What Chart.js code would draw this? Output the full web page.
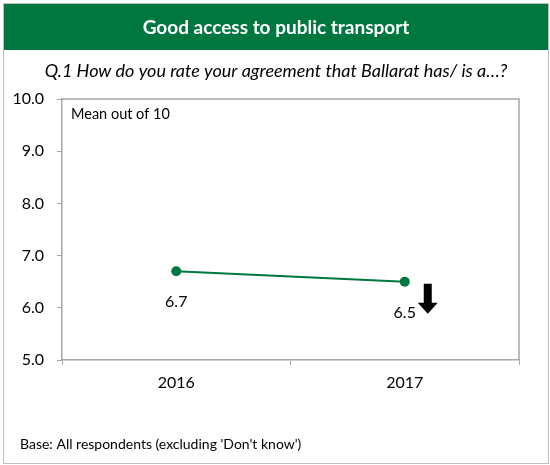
<!DOCTYPE html>
<html>
<head>
<meta charset="utf-8">
<script src="https://cdn.jsdelivr.net/npm/chart.js@4/dist/chart.umd.min.js"></script>
<style>
  html, body { margin: 0; padding: 0; background: #fff; }
  #wrap { width: 550px; height: 465px; position: relative; }
</style>
</head>
<body>
<div id="wrap"><canvas id="grafico" width="550" height="465"></canvas></div>
<script>
const titulo = "Good access to public transport";
const pregunta = "Q.1 How do you rate your agreement that Ballarat has/ is a…?";
const nota = "Mean out of 10";
const base = "Base: All respondents (excluding 'Don't know')";

const anios = ["2016", "2017"];
const medias = [6.7, 6.5];
const tendencia = [null, "down"];

const verde = "#00773F";
const gris = "#A6A6A6";
const fuente = "Lato, 'Open Sans', sans-serif";

// header, outer frame and footer text
const marco = {
  id: "marco",
  beforeDraw(chart) {
    const c = chart.ctx;
    c.save();
    c.fillStyle = "#fff";
    c.fillRect(0, 0, 550, 465);
    c.fillStyle = verde;
    c.fillRect(4, 4, 545, 46);
    c.strokeStyle = "#BFBFBF";
    c.lineWidth = 1;
    c.strokeRect(3.5, 3.5, 545, 460);
    c.fillStyle = "#fff";
    c.font = "bold 19px " + fuente;
    c.textAlign = "center";
    c.textBaseline = "middle";
    c.fillText(titulo, 276, 28);
    c.fillStyle = "#000";
    c.font = "italic 18px " + fuente;
    c.fillText(pregunta, 276, 71);
    c.textAlign = "left";
    c.font = "14.5px " + fuente;
    c.fillText(nota, 71, 114);
    c.font = "14px " + fuente;
    c.fillText(base, 20, 444);
    c.restore();
  },
  afterDraw(chart) {
    const c = chart.ctx;
    const a = chart.chartArea;
    c.save();
    c.strokeStyle = gris;
    c.lineWidth = 1.5;
    c.beginPath();
    c.moveTo(a.left, a.top);
    c.lineTo(a.right, a.top);
    c.lineTo(a.right, a.bottom);
    c.stroke();
    c.restore();
  }
};

// value labels under each point and the trend arrow
const etiquetas = {
  id: "etiquetas",
  afterDatasetsDraw(chart) {
    const c = chart.ctx;
    const meta = chart.getDatasetMeta(0);
    c.save();
    c.fillStyle = "#000";
    c.font = "16px " + fuente;
    c.textAlign = "center";
    c.textBaseline = "middle";
    meta.data.forEach((p, i) => {
      c.fillText(medias[i].toFixed(1), p.x, p.y + 31);
      if (tendencia[i] === "down") {
        const x = p.x + 23, y = p.y + 2;
        c.beginPath();
        c.moveTo(x - 4, y);
        c.lineTo(x + 4, y);
        c.lineTo(x + 4, y + 19);
        c.lineTo(x + 10, y + 19);
        c.lineTo(x, y + 30);
        c.lineTo(x - 10, y + 19);
        c.lineTo(x - 4, y + 19);
        c.closePath();
        c.fill();
      }
    });
    c.restore();
  }
};

new Chart(document.getElementById("grafico").getContext("2d"), {
  type: "line",
  data: {
    labels: anios,
    datasets: [{
      data: medias,
      borderColor: verde,
      backgroundColor: verde,
      borderWidth: 2,
      pointRadius: 5,
      pointBackgroundColor: verde,
      pointBorderWidth: 0,
      fill: false,
      tension: 0
    }]
  },
  options: {
    responsive: false,
    animation: false,
    layout: { padding: { left: 0, top: 99, right: 31, bottom: 65 } },
    plugins: { legend: { display: false }, tooltip: { enabled: false } },
    scales: {
      x: {
        offset: true,
        grid: { offset: true, drawOnChartArea: false, tickLength: 5, color: gris },
        border: { color: gris, width: 1.5 },
        ticks: { color: "#000", font: { family: fuente, size: 16 }, padding: 8 },
        afterFit(s) { s.height = 40; }
      },
      y: {
        min: 5,
        max: 10,
        ticks: {
          stepSize: 1,
          color: "#000",
          font: { family: fuente, size: 16 },
          padding: 13,
          callback: (v) => v.toFixed(1)
        },
        grid: { drawOnChartArea: false, tickLength: 5, color: gris },
        border: { color: gris, width: 1.5 },
        afterFit(s) { s.width = 62; }
      }
    }
  },
  plugins: [marco, etiquetas]
});
</script>
</body>
</html>
